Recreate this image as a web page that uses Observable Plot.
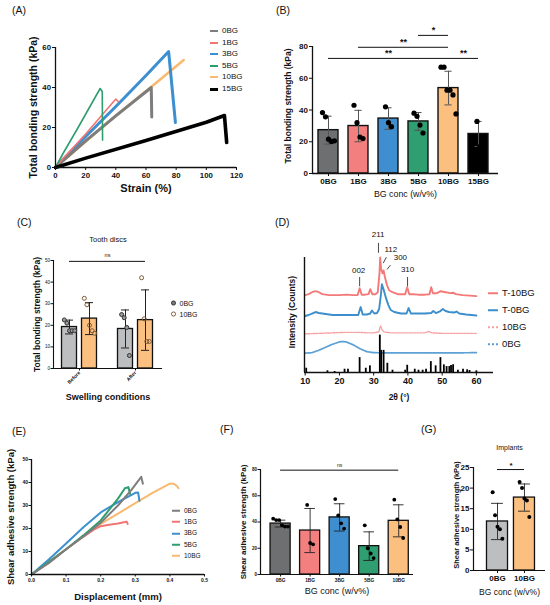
<!DOCTYPE html>
<html><head><meta charset="utf-8">
<script src="https://cdn.jsdelivr.net/npm/d3@7"></script>
<script src="https://cdn.jsdelivr.net/npm/@observablehq/plot@0.6"></script>
<style>
body{margin:0;background:#fff;}
#root{position:relative;width:550px;height:605px;overflow:hidden;background:#fff;font-family:"Liberation Sans",Arial,Helvetica,sans-serif;color:#111}
.p{position:absolute}
.p svg{overflow:visible}
.lab{position:absolute;font-size:10.5px;line-height:1;transform:translateY(-50%);white-space:nowrap}
.leg{position:absolute;display:flex;align-items:center;white-space:nowrap;transform:translateY(-50%);line-height:1}
</style></head><body><div id="root"></div>
<script>
// ================= DATA =================
// (A) total bonding strength vs strain
const aSeries = ["0BG","1BG","3BG","5BG","10BG","15BG"];
const aColors = ["#7d7d7d","#f27575","#3c8fd0","#2f9e6f","#f9b96f","#000000"];
const aStrain0 = [0,5,20,40,63.5,63.8];
const aStress0 = [0,3.5,13.3,25.8,40,25.3];
const aStrain1 = [0,5,20,40,41.5];
const aStress1 = [0,4.5,16.7,34.2,33];
const aStrain3 = [0,5,20,40,60,75,79.5];
const aStress3 = [0,4,15.5,30.5,46,58,22.5];
const aStrain5 = [0,5,15,29.6,31,31.2];
const aStress5 = [0,7,20,39.5,38,13.7];
const aStrain10 = [0,20,40,63,85];
const aStress10 = [0,13,26,40,53.7];
const aStrain15 = [0,20,60,100,112,113.5];
const aStress15 = [0,4.7,13.5,22.6,26,12.5];
const aXTicks = [0,20,40,60,80,100,120];
const aYTicks = [0,20,40,60];

// (B) total bonding strength bars
const bCats = ["0BG","1BG","3BG","5BG","10BG","15BG"];
const bMeans = [27.3,29.9,34.6,32.8,53.8,24.9];
const bSD = [8.8,9.9,6.8,5.6,10.6,7.9];
const bPts = [[38.4,35.7,21.6,20.2,20.6],[43,32,23,22],[42,32,29.5],[38,36,30.5,25.5],[67,67,52.5,52.5,49.5,37.5],[32.8,17]];
const bColors = ["#6e6f71","#f47f7f","#3f8fd0","#2f9e70","#fbbf80","#000000"];
const bSigFrom = ["5BG","1BG","0BG","10BG"];
const bSigTo = ["10BG","10BG","10BG","15BG"];
const bSigLevel = [87,79.5,72.5,72.5];
const bSigText = ["*","**","**","**"];
const bYTicks = [0,20,40,60,80];

// (C) tooth discs
const cConds = ["Before","After"];
const cGroups = ["0BG","10BG"];
const cMean0 = [19.2,18.3];
const cSD0 = [3.2,8.8];
const cMean10 = [23.1,22.4];
const cSD10 = [7.4,14];
const cPts0 = [[22.5,21,17.5,17.5,17.5],[25,23.5,19,6]];
const cPts10 = [[32.5,29.5,20,17.5,16.3],[42,23,12.5,12.5]];
const cColors = ["#bdbec0","#fbbf80"];
const cYTicks = [0,10,20,30,40,50];

// (D) XRD
const dT10Theta = [10,11,12,13,14,15,17,20,22,24,25.3,25.9,26.5,27.5,28.5,29,29.6,30.5,31.2,31.7,31.9,32.2,32.6,32.9,33.3,33.9,34.5,35.5,37,39.2,39.8,40.4,41.5,43,45,46.3,46.8,47.3,48.5,49.6,50.3,51,51.7,52.4,53.2,54,56,58,60];
const dT10Int = [78,79,81,82,81,79,78,78,78.5,78,78,85,78.5,78.5,79,84,79,79,81,100,116,104,100,103,96,88,83,81,79,79,86,79,79,78.5,78.5,79,86,80,80,82,81.5,81,80.5,80,80.5,79,78,77.5,77];
const dT0Theta = [10,11,12,13,14,16,18,20,22,24,25.5,26.2,26.8,28,29,29.5,30.2,31,31.6,32.1,32.4,32.8,33.2,33.7,34.3,35,36,38,39.6,40.2,40.9,42,45,46.8,47.4,48.2,49.5,50.2,51,52,53.5,54.2,55,57,60];
const dT0Int = [57,58,59.5,61,60,59,58,58,58,58,58,66,58.5,58.5,59.5,62.5,59.5,60,64,78,89,85,80,74,68,63,61,59.5,59.5,65,59.5,59.5,59.5,60,62,60,62,64,62,61,60.5,61.5,59.5,58.5,57.5];
const d10Theta = [10,14,18,22,26,28,30,31.5,32,32.5,33,35,40,45,46,47,50,55,60];
const d10Int = [39,39.5,40,40.5,40.5,40,40,41,47,43,41,40,40,40,41.5,40,39.5,39.5,39.5];
const d0Theta = [10,12,14,16,18,20,21,22,24,26,28,30,35,40,50,60];
const d0Int = [19.5,20,22.5,25.5,28.5,30.8,31.3,30.8,28,24,21,20,19.7,19.7,19.7,20];
const dRefTheta = [10.3,16.5,18.6,21.5,22.5,25.9,27.7,28.9,31.8,32.2,32.9,34.0,35.5,39.2,39.8,42.0,43.1,44.3,45.3,46.7,48.1,49.5,50.5,51.3,52.1,52.6,53.2,54.6,56.1,57.3,58.0,60.0];
const dRefInt = [4.3,1.7,1.0,3.3,3.3,15,4.3,6.7,37.7,22.3,22.3,9.3,2.3,2.3,7.3,3.3,2.3,2.3,3.3,11,6.7,15,7.7,6,6,7,7.7,2.3,3.3,2.7,2,1.7];
const dSeries = ["T-10BG","T-0BG","10BG","0BG"];
const dColors = ["#f47a7a","#3d8fcc","#f7a0a0","#5aa0d6"];
const dPeakText = ["002","211","112","300","310"];
const dPeakTheta = [25.6,31.3,35.0,37.8,39.9];
const dPeakY = [103.3,139,124,115.7,104];
const dLeadTheta1 = [25.9,31.4,33.7,34.9,39.9];
const dLeadY1 = [96.3,130.7,116.3,108.3,96.3];
const dLeadTheta2 = [25.9,31.4,32.8,33.9,39.9];
const dLeadY2 = [87,120.7,110.3,104,87];
const dXTicks = [10,20,30,40,50,60];

// (E) shear adhesive strength vs displacement
const eSeries = ["0BG","1BG","3BG","5BG","10BG"];
const eColors = ["#7d7d7d","#f27575","#3c8fd0","#2f9e6f","#f9b96f"];
const eDisp0 = [0,0.05,0.1,0.15,0.2,0.25,0.29,0.31,0.317,0.322];
const eStr0 = [0,5,11,16.5,22.5,30,37,41,42.5,39.5];
const eDisp1 = [0,0.05,0.1,0.15,0.18,0.2,0.22,0.25,0.27,0.275,0.278];
const eStr1 = [0,5,11,16.5,19.5,21,21.5,22.2,22.8,23,22];
const eDisp3 = [0,0.05,0.1,0.15,0.2,0.25,0.3,0.308,0.31,0.312];
const eStr3 = [0,6.5,13.5,20.5,27,31.5,35.5,35.7,34,32];
const eDisp5 = [0,0.05,0.1,0.15,0.2,0.25,0.27,0.28,0.285];
const eStr5 = [0,5.5,11,17,23.5,33,37.5,38,35];
const eDisp10 = [0,0.1,0.2,0.25,0.3,0.35,0.4,0.41,0.42,0.425];
const eStr10 = [0,11,22,26.5,31,35.5,39.5,39.5,38.5,37.5];
const eXTicks = [0,0.1,0.2,0.3,0.4,0.5];
const eYTicks = [0,10,20,30,40,50];

// (F) shear adhesive strength bars
const fCats = ["0BG","1BG","3BG","5BG","10BG"];
const fMeans = [38.8,33.5,43.5,21.6,40.9];
const fSD = [2.6,16.8,10.4,10.9,12.2];
const fPts = [[42.5,41.5,41.5,37.5,36.5,36.5],[53,24,23],[57.5,45,39,35],[37.5,20,16,12.5],[57,42,36.2,27.8]];
const fColors = ["#6e6f71","#f47f7f","#3f8fd0","#2f9e70","#fbbf80"];
const fYTicks = [0,20,40,60,80];

// (G) implants
const gCats = ["0BG","10BG"];
const gMeans = [11.9,17.7];
const gSD = [4.4,3.3];
const gPts = [[19,13.4,10.6,10,7.7],[21.5,20,17.5,17,13]];
const gColors = ["#bdbec0","#fbbf80"];
const gYTicks = [0,5,10,15,20,25];

// ================= HELPERS =================
const FONT = "'Liberation Sans', Arial, Helvetica, sans-serif";
const root = document.getElementById("root");
function place(node, left, top){ const d=document.createElement("div"); d.className="p"; d.style.left=left+"px"; d.style.top=top+"px"; d.appendChild(node); root.appendChild(d); }
function letter(t, left, top){ const d=document.createElement("div"); d.className="lab"; d.textContent=t; d.style.left=left+"px"; d.style.top=top+"px"; root.appendChild(d); }
function legendItem(x, y, text, size, sw){ const d=document.createElement("div"); d.className="leg"; d.style.left=x+"px"; d.style.top=y+"px"; d.style.fontSize=size+"px"; d.appendChild(sw); const s=document.createElement("span"); s.textContent=text; s.style.marginLeft="4px"; d.appendChild(s); root.appendChild(d); }
function lineSwatch(w, color, width, dotted){ const s=document.createElement("div"); s.style.width=w+"px"; s.style.height="0px"; s.style.borderTop=(dotted? "dotted ":"solid ")+width+"px "+color; return s; }
function dotSwatch(d, fill, stroke){ const s=document.createElement("div"); s.style.width=d+"px"; s.style.height=d+"px"; s.style.borderRadius="50%"; s.style.boxSizing="border-box"; s.style.background=fill; s.style.border="1px solid "+stroke; return s; }
function base(w,h,ml,mr,mt,mb){ return {width:w,height:h,marginLeft:ml,marginRight:mr,marginTop:mt,marginBottom:mb,style:{fontFamily:FONT,background:"transparent",overflow:"visible",color:"#111"},color:{type:"identity"}}; }
function axisLines(x0,x1,y0,y1,sw){ return [Plot.ruleY([y0],{x1:x0,x2:x1,stroke:"#111",strokeWidth:sw}), Plot.ruleX([x0],{y1:y0,y2:y1,stroke:"#111",strokeWidth:sw})]; }
function yLabel(t, dx, size, dy=0){ return Plot.text([t],{text:d=>d,frameAnchor:"left",rotate:-90,dx,dy,fontSize:size,fontWeight:"bold",lineAnchor:"middle",textAnchor:"middle",fill:"currentColor"}); }
function xLabel(t, dy, size, weight="bold"){ return Plot.text([t],{text:d=>d,frameAnchor:"bottom",dy,fontSize:size,fontWeight:weight,lineAnchor:"middle",textAnchor:"middle",fill:"currentColor"}); }
function title(t, dy, size){ return Plot.text([t],{text:d=>d,frameAnchor:"top",dy,fontSize:size,lineAnchor:"middle",textAnchor:"middle",fill:"currentColor"}); }
function spread(pts, i, step){ return pts.map((v,j)=>({x:i+(j-(pts.length-1)/2)*step, y:v})); }

// ================= PANEL A =================
const aX = [aStrain0,aStrain1,aStrain3,aStrain5,aStrain10,aStrain15];
const aY = [aStress0,aStress1,aStress3,aStress5,aStress10,aStress15];
const aWidths = [3,1.6,3,1.6,2.6,3.6];
const aOrder = [4,2,0,1,3,5];
const aRows = aSeries.flatMap((s,k)=>aX[k].map((x,j)=>({k,x,y:aY[k][j]})));
place(Plot.plot({...base(275,200,55,39,47,33),
  x:{domain:[0,120]}, y:{domain:[0,60]},
  marks:[
    ...aOrder.map(k=>Plot.line(aRows.filter(d=>d.k===k),{x:"x",y:"y",stroke:aColors[k],strokeWidth:aWidths[k],strokeLinejoin:"round"})),
    ...axisLines(0,120,0,60,1.3),
    Plot.axisX({ticks:aXTicks,tickSize:3,tickPadding:1.5,fontSize:7.8,fontWeight:"bold",label:null}),
    Plot.axisY({ticks:aYTicks,tickSize:3,tickPadding:1.5,fontSize:7.8,fontWeight:"bold",label:null}),
    yLabel("Total bonding strength (kPa)",-22,10.5),
    xLabel("Strain (%)",21,11)
  ]}),0,0);
aSeries.forEach((s,k)=>legendItem(210,31+k*11.6,s,8,lineSwatch(8,aColors[k],k===5?3.2:2,false)));

// ================= PANEL B =================
const bIdx = c=>bCats.indexOf(c);
const bRows = bCats.map((c,i)=>({i,m:bMeans[i],sd:bSD[i],c:bColors[i]}));
const bPtRows = bPts.flatMap((p,i)=>spread(p,i,0.1));
const bSig = bSigText.map((t,k)=>({t,x1:bIdx(bSigFrom[k]),x2:bIdx(bSigTo[k]),y:bSigLevel[k]}));
place(Plot.plot({...base(275,205,37,52,46,32),
  x:{domain:[-0.533,5.667]}, y:{domain:[0,80]},
  marks:[
    Plot.rectY(bRows,{x1:d=>d.i-0.333,x2:d=>d.i+0.333,y1:0,y2:"m",fill:"c",stroke:"#111",strokeWidth:1.4}),
    Plot.ruleX(bRows,{x:"i",y1:d=>d.m-d.sd,y2:d=>d.m+d.sd,stroke:"#555",strokeWidth:1}),
    Plot.ruleY(bRows,{y:d=>d.m+d.sd,x1:d=>d.i-0.12,x2:d=>d.i+0.12,stroke:"#555",strokeWidth:1}),
    Plot.ruleY(bRows,{y:d=>d.m-d.sd,x1:d=>d.i-0.12,x2:d=>d.i+0.12,stroke:"#555",strokeWidth:1}),
    Plot.dot(bPtRows,{x:"x",y:"y",r:2.6,fill:"#000"}),
    Plot.ruleY(bSig,{y:"y",x1:"x1",x2:"x2",stroke:"#111",strokeWidth:1}),
    Plot.text(bSig,{x:d=>(d.x1+d.x2)/2,y:"y",text:"t",dy:-5,fontSize:9,fontWeight:"bold",fill:"currentColor"}),
    ...axisLines(-0.533,5.667,0,80,1.3),
    Plot.axisX({ticks:d3.range(bCats.length),tickFormat:i=>bCats[i],tickSize:3,tickPadding:2,fontSize:8,fontWeight:"bold",label:null}),
    Plot.axisY({ticks:bYTicks,tickSize:3,tickPadding:1.5,fontSize:8,fontWeight:"bold",label:null}),
    yLabel("Total bonding strength (kPa)",-24,8.5,-4),
    xLabel("BG conc (w/v%)",21,8.8,"normal")
  ]}),275,0);

// ================= PANEL C =================
const cPos = (g,s)=>g*2.8+(s===0?-0.5:0.5);
const cRows = [];
cConds.forEach((cond,g)=>{ cRows.push({x:cPos(g,0),m:cMean0[g],sd:cSD0[g],c:cColors[0]}); cRows.push({x:cPos(g,1),m:cMean10[g],sd:cSD10[g],c:cColors[1]}); });
const cP0 = cPts0.flatMap((p,g)=>spread(p,cPos(g,0),0.13));
const cP10 = cPts10.flatMap((p,g)=>spread(p,cPos(g,1),0.13));
place(Plot.plot({...base(275,205,53,113,60,37),
  x:{domain:[-1.3,4.15]}, y:{domain:[0,50]},
  marks:[
    Plot.rectY(cRows,{x1:d=>d.x-0.375,x2:d=>d.x+0.375,y1:0,y2:"m",fill:"c",stroke:"#111",strokeWidth:1.3}),
    Plot.ruleX(cRows,{x:"x",y1:d=>d.m-d.sd,y2:d=>d.m+d.sd,stroke:"#222",strokeWidth:1}),
    Plot.ruleY(cRows,{y:d=>d.m+d.sd,x1:d=>d.x-0.2,x2:d=>d.x+0.2,stroke:"#222",strokeWidth:1}),
    Plot.ruleY(cRows,{y:d=>d.m-d.sd,x1:d=>d.x-0.2,x2:d=>d.x+0.2,stroke:"#222",strokeWidth:1}),
    Plot.dot(cP0,{x:"x",y:"y",r:2,fill:"#9a9a9a",stroke:"#333",strokeWidth:1}),
    Plot.dot(cP10,{x:"x",y:"y",r:2,fill:"none",stroke:"#7b5a35",strokeWidth:1}),
    Plot.ruleY([49.6],{x1:cPos(0,0),x2:cPos(1,1),stroke:"#111",strokeWidth:1}),
    Plot.text(["ns"],{text:d=>d,x:(cPos(0,0)+cPos(1,1))/2,y:49.6,dy:-6,fontSize:5.5,fill:"currentColor"}),
    title("Tooth discs",-21,7.5),
    ...axisLines(-1.3,4.15,0,50,1.1),
    Plot.axisX({ticks:[cPos(0,0)+0.5,cPos(1,0)+0.5],tickFormat:x=>cConds[Math.round(x/2.8)],tickRotate:-45,tickSize:2.5,tickPadding:1,fontSize:5,fontWeight:"bold",label:null}),
    Plot.axisY({ticks:cYTicks,tickSize:2.5,tickPadding:1,fontSize:4.5,label:null}),
    yLabel("Total bonding strength (kPa)",-16,8.5),
    xLabel("Swelling conditions",29,9)
  ]}),0,200);
legendItem(171,303,cGroups[0],7,dotSwatch(4.5,"#777","#333"));
legendItem(171,314,cGroups[1],7,dotSwatch(4.5,"#fff","#7b5a35"));

// ================= PANEL D =================
const dTraces = [[dT10Theta,dT10Int],[dT0Theta,dT0Int],[d10Theta,d10Int],[d0Theta,d0Int]];
const dPeaks = dPeakText.map((t,k)=>({t,x:dPeakTheta[k],y:dPeakY[k],x1:dLeadTheta1[k],y1:dLeadY1[k],x2:dLeadTheta2[k],y2:dLeadY2[k]}));
const dRef = dRefTheta.map((x,k)=>({x,y:dRefInt[k]}));
place(Plot.plot({...base(275,205,29,57,57,33),
  x:{domain:[9.8,65]}, y:{domain:[0,116],axis:null},
  marks:[
    ...dTraces.map(([tx,ty],k)=>Plot.line(tx.map((x,j)=>({x,y:ty[j]})),{x:"x",y:"y",stroke:dColors[k],strokeWidth:k<2?1.9:(k===3?1.7:1.4),strokeDasharray:k<2?null:(k===3?"2.2,0.8":"1.6,1.2"),curve:"linear"})),
    Plot.ruleX(dRef,{x:"x",y1:0,y2:"y",stroke:"#000",strokeWidth:1.8}),
    Plot.link(dPeaks,{x1:"x1",y1:"y1",x2:"x2",y2:"y2",stroke:"#333",strokeWidth:0.9}),
    Plot.text(dPeaks,{x:"x",y:"y",text:"t",fontSize:8,fill:"currentColor"}),
    ...axisLines(9.8,65,0,116,1.4),
    Plot.axisX({ticks:dXTicks,tickSize:3.5,tickPadding:1.5,fontSize:9,fontWeight:"bold",label:null}),
    yLabel("Intensity (Counts)",-12,8.5,-3),
    xLabel("2θ (°)",25,8.5)
  ]}),275,200);
dSeries.forEach((s,k)=>legendItem(488,293+k*17,s,9.5,lineSwatch(10,dColors[k],2,k>=2)));

// ================= PANEL E =================
const eX = [eDisp0,eDisp1,eDisp3,eDisp5,eDisp10];
const eY = [eStr0,eStr1,eStr3,eStr5,eStr10];
const eOrder = [4,2,1,3,0];
const eRows = eSeries.flatMap((s,k)=>eX[k].map((x,j)=>({k,x,y:eY[k][j]})));
place(Plot.plot({...base(220,200,31,16,54,31),
  x:{domain:[0,0.5]}, y:{domain:[0,50]},
  marks:[
    ...eOrder.map(k=>Plot.line(eRows.filter(d=>d.k===k),{x:"x",y:"y",stroke:eColors[k],strokeWidth:2,strokeLinejoin:"round"})),
    ...axisLines(0,0.5,0,50,1.3),
    Plot.axisX({ticks:eXTicks,tickFormat:d3.format(".1f"),tickSize:2.5,tickPadding:1,fontSize:5,fontWeight:"bold",label:null}),
    Plot.axisY({ticks:eYTicks,tickSize:2.5,tickPadding:1,fontSize:5,fontWeight:"bold",label:null}),
    yLabel("Shear adhesive strength (kPa)",-21,9.5),
    xLabel("Displacement (mm)",22,9.5)
  ]}),0,405);
eSeries.forEach((s,k)=>legendItem(172,511+k*11.2,s,6.5,lineSwatch(8,eColors[k],2,false)));

// ================= PANEL F =================
const fRows = fCats.map((c,i)=>({i,m:fMeans[i],sd:fSD[i],c:fColors[i]}));
const fPtRows = fPts.flatMap((p,i)=>spread(p,i,0.1));
place(Plot.plot({...base(200,200,40,7,64,31),
  x:{domain:[-0.68,4.5]}, y:{domain:[0,80]},
  marks:[
    Plot.rectY(fRows,{x1:d=>d.i-0.34,x2:d=>d.i+0.34,y1:0,y2:"m",fill:"c",stroke:"#111",strokeWidth:1.3}),
    Plot.ruleX(fRows,{x:"i",y1:d=>d.m-d.sd,y2:d=>d.m+d.sd,stroke:"#222",strokeWidth:0.9}),
    Plot.ruleY(fRows,{y:d=>d.m+d.sd,x1:d=>d.i-0.18,x2:d=>d.i+0.18,stroke:"#222",strokeWidth:0.9}),
    Plot.ruleY(fRows,{y:d=>d.m-d.sd,x1:d=>d.i-0.18,x2:d=>d.i+0.18,stroke:"#222",strokeWidth:0.9}),
    Plot.dot(fPtRows,{x:"x",y:"y",r:1.9,fill:"#000"}),
    Plot.ruleY([79.5],{x1:0,x2:fCats.length-1,stroke:"#111",strokeWidth:1}),
    Plot.text(["ns"],{text:d=>d,x:(fCats.length-1)/2,y:79.5,dy:-5,fontSize:5,fill:"currentColor"}),
    ...axisLines(-0.68,4.5,0,80,1.2),
    Plot.axisX({ticks:d3.range(fCats.length),tickFormat:i=>fCats[i],tickSize:2.5,tickPadding:1.5,fontSize:4.8,fontWeight:"bold",label:null}),
    Plot.axisY({ticks:fYTicks,tickSize:2.5,tickPadding:1,fontSize:4.5,fontWeight:"bold",label:null}),
    yLabel("Shear adhesive strength (kPa)",-17,8),
    xLabel("BG conc (w/v%)",17,9,"normal")
  ]}),220,405);

// ================= PANEL G =================
const gRows = gCats.map((c,i)=>({i,m:gMeans[i],sd:gSD[i],c:gColors[i]}));
const gPtRows = gPts.flatMap((p,i)=>spread(p,i,0.09));
place(Plot.plot({...base(130,200,53,5,62,35),
  x:{domain:[-0.89,1.78]}, y:{domain:[0,25]},
  marks:[
    Plot.rectY(gRows,{x1:d=>d.i-0.39,x2:d=>d.i+0.39,y1:0,y2:"m",fill:"c",stroke:"#111",strokeWidth:1.3}),
    Plot.ruleX(gRows,{x:"i",y1:d=>d.m-d.sd,y2:d=>d.m+d.sd,stroke:"#222",strokeWidth:0.9}),
    Plot.ruleY(gRows,{y:d=>d.m+d.sd,x1:d=>d.i-0.22,x2:d=>d.i+0.22,stroke:"#222",strokeWidth:0.9}),
    Plot.ruleY(gRows,{y:d=>d.m-d.sd,x1:d=>d.i-0.22,x2:d=>d.i+0.22,stroke:"#222",strokeWidth:0.9}),
    Plot.dot(gPtRows,{x:"x",y:"y",r:2,fill:"#000"}),
    Plot.ruleY([24.5],{x1:0,x2:1,stroke:"#111",strokeWidth:1}),
    Plot.text(["*"],{text:d=>d,x:0.5,y:24.5,dy:-4,fontSize:8,fontWeight:"bold",fill:"currentColor"}),
    title("Implants",-20,7),
    ...axisLines(-0.89,1.78,0,25,1.2),
    Plot.axisX({ticks:d3.range(gCats.length),tickFormat:i=>gCats[i],tickSize:3,tickPadding:1.5,fontSize:8,fontWeight:"bold",label:null}),
    Plot.axisY({ticks:gYTicks,tickSize:3,tickPadding:1,fontSize:8,fontWeight:"bold",label:null}),
    yLabel("Shear adhesive strength (kPa)",-17,7.5,-4),
    xLabel("BG conc (w/v%)",22,8.5,"normal")
  ]}),420,405);

// panel letters
letter("(A)",12,10); letter("(B)",276,10); letter("(C)",17,222); letter("(D)",275,222);
letter("(E)",12,431); letter("(F)",220,429); letter("(G)",421,429);
</script></body></html>
